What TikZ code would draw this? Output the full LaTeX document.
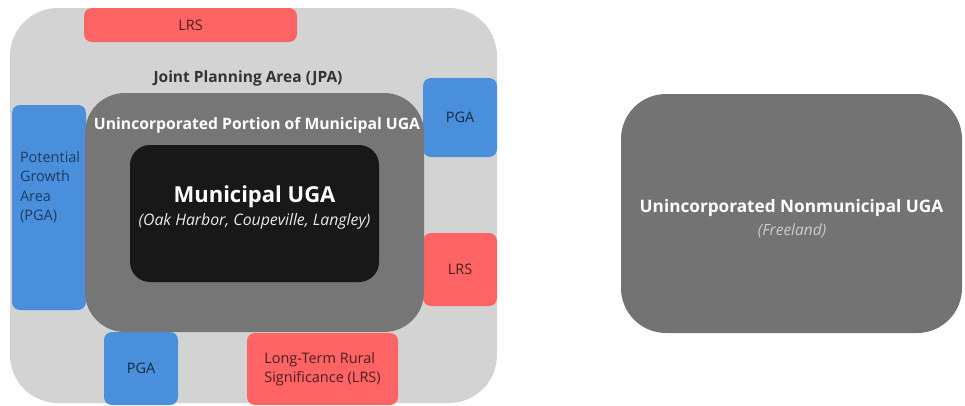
\documentclass[tikz,border=0pt]{standalone}
\usepackage{fontspec}
\setmainfont{Open Sans}
\definecolor{jpagray}{HTML}{D3D3D3}
\definecolor{midgray}{HTML}{767676}
\definecolor{nongray}{HTML}{737373}
\definecolor{muniblack}{HTML}{181818}
\definecolor{pgablue}{HTML}{4A8FDB}
\definecolor{lrsred}{HTML}{FE6464}
\definecolor{bluetext}{HTML}{1E3A60}
\begin{document}
\begin{tikzpicture}[x=1pt,y=-1pt,
  area/.style={anchor=north west,inner sep=0pt,outer sep=0pt},
  small/.style={font=\fontsize{14.5}{19.5}\selectfont},
  title/.style={font=\fontsize{#1}{#1}\selectfont\bfseries},
  sub/.style={font=\fontsize{#1}{#1}\selectfont\itshape}]
\useasboundingbox (0,0) rectangle (965,405);

\node[area,fill=jpagray,rounded corners=48pt,minimum width=487pt,minimum height=395pt] (jpa) at (10,8) {};
\foreach \name/\x/\y/\w/\h/\col/\txt in {lrstop/84/8/213/34/lrsred/LRS,
    pgaleft/12/105/74/205/pgablue/{},
    pgatop/423/78/74/79/pgablue/PGA,
    lrsright/423/233/74/73/lrsred/LRS,
    pgabot/104/332/74/73/pgablue/PGA,
    lrsbot/247/333/151/72/lrsred/{Long-Term Rural\\Significance (LRS)}}
{
    \node[area,small,align=left,fill=\col,rounded corners=8pt,text=\col!30!black,
      minimum width=\w pt,minimum height=\h pt] (\name) at (\x,\y) {\txt};
}
\node[area,small,align=left,text=bluetext] (pgaleftlbl) at (20,151) {Potential\\Growth\\Area\\(PGA)};

\node[area,fill=midgray,rounded corners=40pt,minimum width=339pt,minimum height=239pt] (uninc) at (85,93) {};
\node[area,fill=muniblack,rounded corners=20pt,minimum width=249pt,minimum height=137pt] (muni) at (130,145) {};
\node[area,fill=nongray,rounded corners=45pt,minimum width=341pt,minimum height=239pt] (nonmuni) at (621,94) {};

\node[title=15.5,text=black!80] (jpalbl) at (248,78) {Joint Planning Area (JPA)};
\node[title=15.7,text=white] (uninclbl) at (257,125) {Unincorporated Portion of Municipal UGA};
\node[title=22,text=white] (munilbl) at (254.5,197) {Municipal UGA};
\node[sub=15.8,text=white!92!black] (munisub) at (254.5,221) {(Oak Harbor, Coupeville, Langley)};
\node[title=17.2,text=white] (nonlbl) at (791.5,208) {Unincorporated Nonmunicipal UGA};
\node[sub=15.5,text=white!80!black] (nonsub) at (792,231) {(Freeland)};

\end{tikzpicture}
\end{document}
